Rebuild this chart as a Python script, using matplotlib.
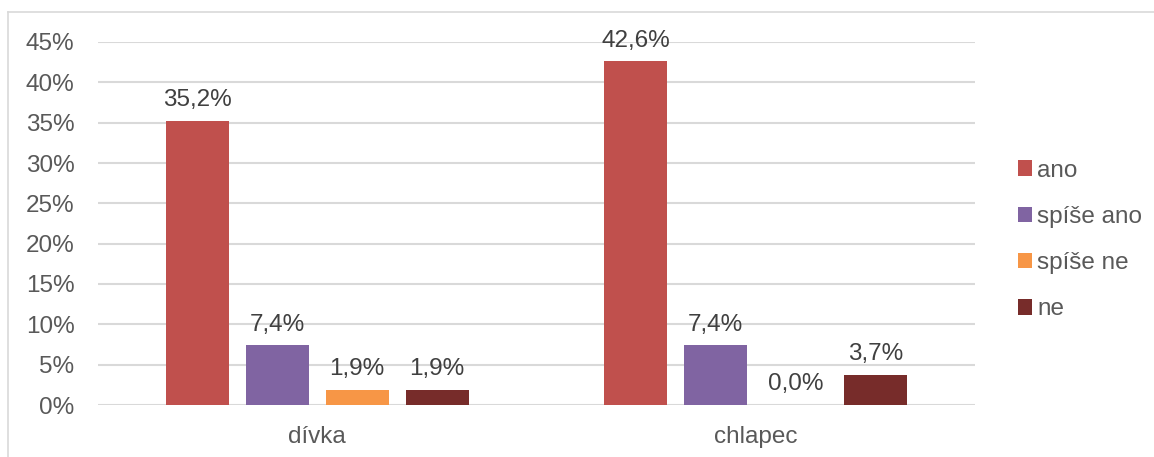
import matplotlib.pyplot as plt
from matplotlib.patches import Patch
from matplotlib.lines import Line2D

categories = ['dívka', 'chlapec']
series = ['ano', 'spíše ano', 'spíše ne', 'ne']
values = {
    'ano': [35.2, 42.6],
    'spíše ano': [7.4, 7.4],
    'spíše ne': [1.9, 0.0],
    'ne': [1.9, 3.7],
}
labels = {
    'ano': ['35,2%', '42,6%'],
    'spíše ano': ['7,4%', '7,4%'],
    'spíše ne': ['1,9%', '0,0%'],
    'ne': ['1,9%', '3,7%'],
}
colors = ['#C0504D', '#8064A2', '#F79646', '#772C2A']
yticks = [0, 5, 10, 15, 20, 25, 30, 35, 40, 45]

plt.rcParams['font.family'] = ['Liberation Sans', 'DejaVu Sans']
plt.rcParams['font.size'] = 17.5

W, H = 1154, 457
fig = plt.figure(figsize=(W / 100, H / 100), dpi=100)
ax = fig.add_axes([98 / W, 1 - 405 / H, (975 - 98) / W, 363 / H])

width = 0.1437
step = 0.1824
for i, s in enumerate(series):
    xs = [c + (i - 1.5) * step for c in range(len(categories))]
    ax.bar(xs, values[s], width=width, color=colors[i], zorder=3)
    for x, v, t in zip(xs, values[s], labels[s]):
        ax.text(x, v + 1.2, t, ha='center', va='bottom', color='#404040')

ax.set_xlim(-0.5, 1.5)
ax.set_ylim(0, 45)
ax.set_yticks(yticks)
ax.set_yticklabels([f'{t}%' for t in yticks], color='#595959')
ax.set_xticks(range(len(categories)))
ax.set_xticklabels(categories, color='#595959')
ax.tick_params(axis='both', length=0)
ax.tick_params(axis='y', pad=17)
ax.tick_params(axis='x', pad=15)
ax.grid(axis='y', color='#D9D9D9', linewidth=1.5, zorder=0)
for sp in ax.spines.values():
    sp.set_visible(False)

# outer chart border (top and left)
fig.add_artist(Line2D([8 / W, 1], [1 - 12 / H, 1 - 12 / H], color='#D9D9D9', lw=1.2))
fig.add_artist(Line2D([8 / W, 8 / W], [0, 1 - 12 / H], color='#D9D9D9', lw=1.2))

handles = [Patch(facecolor=c, label=s) for c, s in zip(colors, series)]
leg = fig.legend(handles=handles, loc='center left', bbox_to_anchor=(996 / W, 1 - 240 / H),
                 frameon=False, handlelength=0.6, handleheight=0.6, handletextpad=0.2,
                 labelspacing=1.0, labelcolor='#595959')

fig.savefig('out.png', dpi=100)
